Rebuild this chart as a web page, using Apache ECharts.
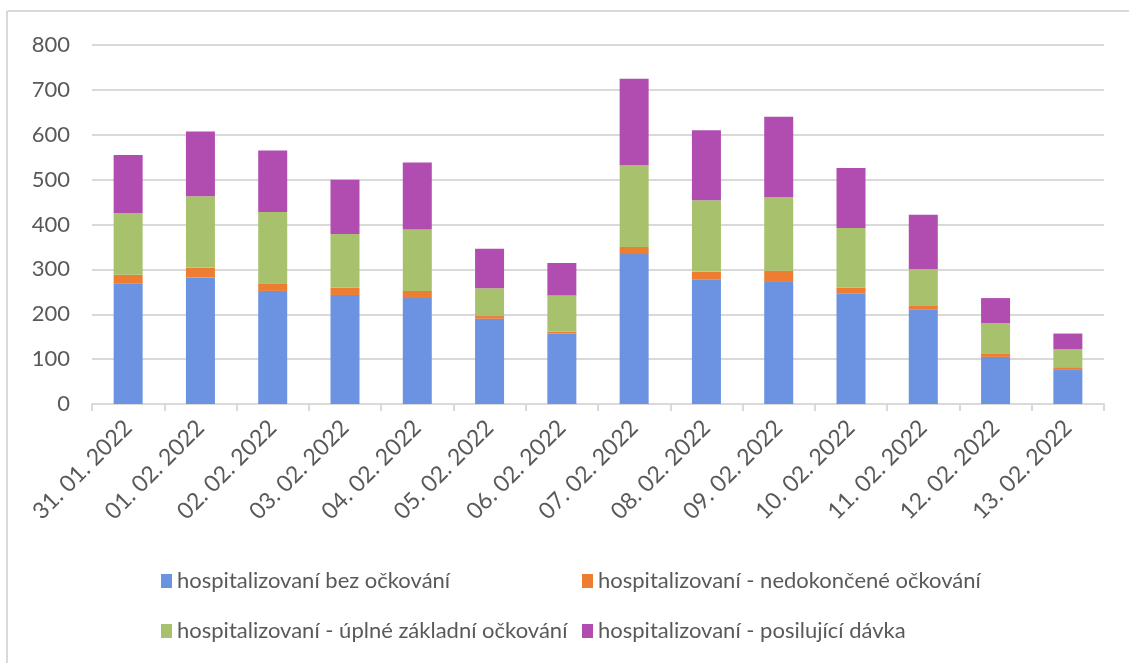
<!DOCTYPE html>
<html>
<head>
<meta charset="utf-8">
<script src="https://cdn.jsdelivr.net/npm/echarts@6/dist/echarts.min.js"></script>
<style>
html,body{margin:0;padding:0;background:#fff;}
#chart{width:1129px;height:663px;}
</style>
</head>
<body>
<div id="chart"></div>
<script>
const categories = ['31. 01. 2022','01. 02. 2022','02. 02. 2022','03. 02. 2022','04. 02. 2022','05. 02. 2022','06. 02. 2022','07. 02. 2022','08. 02. 2022','09. 02. 2022','10. 02. 2022','11. 02. 2022','12. 02. 2022','13. 02. 2022'];
const seriesNames = ['hospitalizovaní bez očkování','hospitalizovaní - nedokončené očkování','hospitalizovaní - úplné základní očkování','hospitalizovaní - posilující dávka'];
const bezOckovani = [269, 282, 252, 243, 236, 190, 157, 334, 278, 272, 246, 210, 105, 76];
const nedokoncene = [19, 22, 17, 16, 16, 6, 4, 16, 17, 25, 13, 10, 8, 6];
const uplneZakladni = [137, 159, 159, 120, 137, 62, 81, 182, 159, 164, 133, 81, 67, 40];
const posilujici = [130, 144, 137, 121, 149, 88, 72, 193, 156, 179, 134, 121, 56, 35];
const yTicks = [0, 100, 200, 300, 400, 500, 600, 700, 800];

const colors = ['#6c93e1', '#ec7d31', '#a8c16c', '#b14db1'];
const values = [bezOckovani, nedokoncene, uplneZakladni, posilujici];
const FONT = 'Lato';
const TXT = '#595959';

const chart = echarts.init(document.getElementById('chart'));

const legendPos = [
  {left: 156, top: 565},
  {left: 577, top: 565},
  {left: 156, top: 615},
  {left: 577, top: 615}
];

chart.setOption({
  animation: false,
  color: colors,
  graphic: [
    {type: 'line', shape: {x1: 7, y1: 11, x2: 1129, y2: 11}, style: {stroke: '#d9d9d9', lineWidth: 2}},
    {type: 'line', shape: {x1: 7, y1: 11, x2: 7, y2: 663}, style: {stroke: '#d9d9d9', lineWidth: 2}}
  ],
  grid: {left: 92, right: 25, top: 45, bottom: 259, containLabel: false},
  legend: seriesNames.map((n, i) => ({
    data: [n],
    left: legendPos[i].left,
    top: legendPos[i].top,
    orient: 'horizontal',
    icon: 'rect',
    itemWidth: 11,
    itemHeight: 14,
    selectedMode: false,
    textStyle: {fontFamily: FONT, fontSize: 22, color: TXT}
  })),
  xAxis: {
    type: 'category',
    data: categories,
    axisLine: {lineStyle: {color: '#d9d9d9', width: 2}},
    axisTick: {show: true, alignWithLabel: false, length: 7, lineStyle: {color: '#d9d9d9', width: 2}},
    axisLabel: {rotate: 45, margin: 20, fontFamily: FONT, fontSize: 23, color: TXT, interval: 0}
  },
  yAxis: {
    type: 'value',
    min: yTicks[0],
    max: yTicks[yTicks.length - 1],
    interval: 100,
    axisLine: {show: false},
    axisTick: {show: false},
    splitLine: {lineStyle: {color: '#d9d9d9', width: 2}},
    axisLabel: {margin: 22, fontFamily: FONT, fontSize: 22, color: TXT}
  },
  series: seriesNames.map((n, i) => ({
    name: n,
    type: 'bar',
    stack: 'total',
    barWidth: 29,
    data: values[i],
    itemStyle: {color: colors[i]}
  }))
});
</script>
</body>
</html>
